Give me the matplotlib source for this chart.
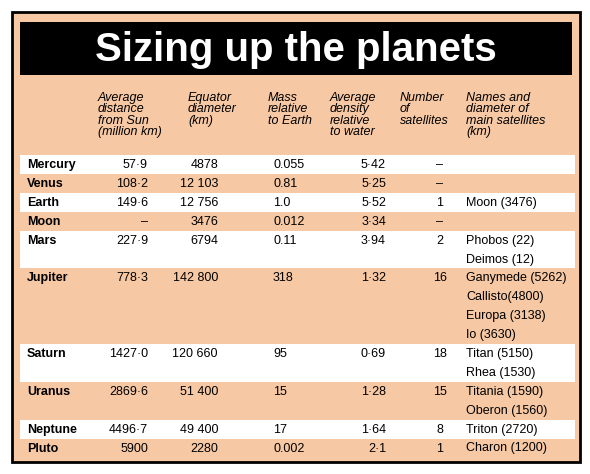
import matplotlib.pyplot as plt
from matplotlib.patches import Rectangle

plt.rcParams['font.family'] = ['Liberation Sans', 'DejaVu Sans']

planets = ["Mercury", "Venus", "Earth", "Moon", "Mars", "Jupiter", "Saturn", "Uranus", "Neptune", "Pluto"]
distance = ["57·9", "108·2", "149·6", "–", "227·9", "778·3", "1427·0", "2869·6", "4496·7", "5900"]
diameter = ["4878", "12 103", "12 756", "3476", "6794", "142 800", "120 660", "51 400", "49 400", "2280"]
mass = ["0.055", "0.81", "1.0", "0.012", "0.11", "318", "95", "15", "17", "0.002"]
density = ["5·42", "5·25", "5·52", "3·34", "3·94", "1·32", "0·69", "1·28", "1·64", "2·1"]
n_sat = ["–", "–", "1", "–", "2", "16", "18", "15", "8", "1"]
satellites = [[], [], ["Moon (3476)"], [], ["Phobos (22)", "Deimos (12)"],
              ["Ganymede (5262)", "Callisto(4800)", "Europa (3138)", "Io (3630)"],
              ["Titan (5150)", "Rhea (1530)"], ["Titania (1590)", "Oberon (1560)"],
              ["Triton (2720)"], ["Charon (1200)"]]
white_rows = ["Mercury", "Earth", "Mars", "Saturn", "Neptune"]
headers = ["Average\ndistance\nfrom Sun\n(million km)", "Equator\ndiameter\n(km)",
           "Mass\nrelative\nto Earth", "Average\ndensity\nrelative\nto water",
           "Number\nof\nsatellites", "Names and\ndiameter of\nmain satellites\n(km)"]
header_x = [98, 188, 268, 330, 400, 466]

fig = plt.figure(figsize=(5.9, 4.74), dpi=100)
ax = fig.add_axes([0, 0, 1, 1])
ax.set_xlim(0, 590)
ax.set_ylim(474, 0)
ax.axis("off")

peach = "#f6c8a4"
ax.add_patch(Rectangle((12, 12), 568, 450, facecolor=peach, edgecolor="black", lw=2))
ax.add_patch(Rectangle((20, 22), 552, 53, facecolor="black"))
ax.text(296, 50, "Sizing up the planets", color="white", fontsize=29, fontweight="bold",
        ha="center", va="center")

for hx, h in zip(header_x, headers):
    ax.text(hx, 92, h, fontsize=9, style="italic", va="top", ha="left", linespacing=0.92)

row_h = 18.9
y = 165
for i, p in enumerate(planets):
    nlines = max(1, len(satellites[i]))
    if p in white_rows:
        ax.add_patch(Rectangle((20, y - 10), 555, nlines * row_h, facecolor="white", edgecolor="none"))
    fs = 9
    ax.text(27, y, p, fontsize=fs, fontweight="bold", va="center")
    ax.text(148, y, distance[i], fontsize=fs, va="center", ha="right")
    ax.text(218, y, diameter[i], fontsize=fs, va="center", ha="right")
    ax.text(273, y, mass[i], fontsize=fs, va="center", ha="left")
    ax.text(386, y, density[i], fontsize=fs, va="center", ha="right")
    ax.text(440, y, n_sat[i], fontsize=fs, va="center", ha="center")
    for k, s in enumerate(satellites[i]):
        ax.text(466, y + k * row_h, s, fontsize=fs, va="center")
    y += nlines * row_h

fig.savefig("out.png", dpi=100)
